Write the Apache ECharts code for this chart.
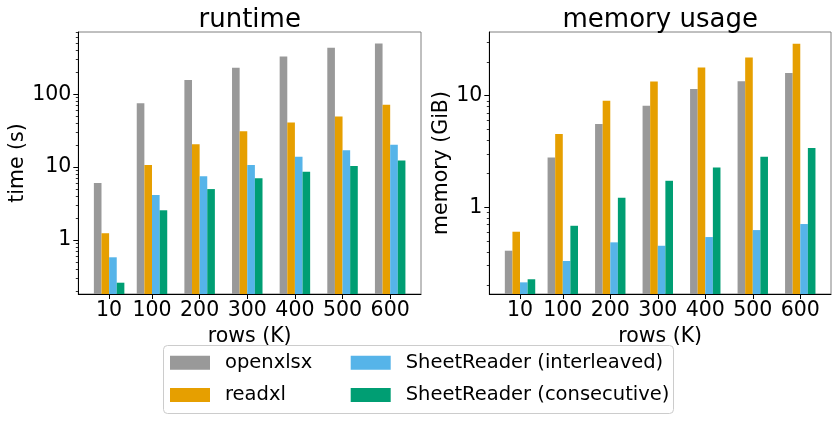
<!DOCTYPE html>
<html>
<head>
<meta charset="utf-8">
<script src="https://cdn.jsdelivr.net/npm/echarts@6/dist/echarts.min.js"></script>
<style>
html,body{margin:0;padding:0;background:#fff;}
#chart{width:839px;height:421px;}
</style>
</head>
<body>
<div id="chart"></div>
<script>
// ---- data ----
const rows = [10, 100, 200, 300, 400, 500, 600]; // rows (K)
const seriesNames = ['openxlsx', 'readxl', 'SheetReader (interleaved)', 'SheetReader (consecutive)'];
const seriesColors = ['#999999', '#E69F00', '#56B4E9', '#009E73'];

// runtime, seconds
const runtimeOpenxlsx = [6.07, 75.4, 156, 231, 330, 434, 497];
const runtimeReadxl = [1.24, 10.7, 20.6, 31.1, 40.9, 49.4, 71.5];
const runtimeInterleaved = [0.58, 4.15, 7.5, 10.7, 13.9, 17.1, 20.2];
const runtimeConsecutive = [0.26, 2.56, 5.0, 7.03, 8.67, 10.4, 12.3];

// memory, GiB
const memoryOpenxlsx = [0.409, 2.80, 5.57, 8.12, 11.5, 13.5, 16.0];
const memoryReadxl = [0.605, 4.53, 9.0, 13.4, 17.9, 22.0, 29.2];
const memoryInterleaved = [0.213, 0.331, 0.486, 0.453, 0.542, 0.626, 0.709];
const memoryConsecutive = [0.227, 0.684, 1.22, 1.73, 2.28, 2.84, 3.40];

const runtimeTicks = [1, 10, 100];
const memoryTicks = [1, 10];
const runtimeMinorTicks = [0.2,0.3,0.4,0.5,0.6,0.7,0.8,0.9,2,3,4,5,6,7,8,9,20,30,40,50,60,70,80,90,200,300,400,500,600,700];
const memoryMinorTicks = [0.2,0.3,0.4,0.5,0.6,0.7,0.8,0.9,2,3,4,5,6,7,8,9,20,30];

const runtimeSets = [runtimeOpenxlsx, runtimeReadxl, runtimeInterleaved, runtimeConsecutive];
const memorySets = [memoryOpenxlsx, memoryReadxl, memoryInterleaved, memoryConsecutive];

// ---- chart ----
const FONT = 'DejaVu Sans';
const TICK_FS = 20.5;
const BAR_UNITS = 16; // bar width in x-axis units (rows K)

function makeRender(k) {
  return function (params, api) {
    const x = api.value(0), y = api.value(1);
    const top = api.coord([x, y]);
    const w = api.size([BAR_UNITS, 0], [x, 1])[0];
    const bottom = params.coordSys.y + params.coordSys.height;
    return {
      type: 'rect',
      shape: { x: top[0] + (k - 2) * w, y: top[1], width: w, height: bottom - top[1] },
      style: { fill: seriesColors[k] }
    };
  };
}

function xAxisDef(gridIndex) {
  return {
    type: 'value', gridIndex: gridIndex, min: -54.7, max: 664.7,
    name: 'rows (K)', nameLocation: 'middle', nameGap: 32,
    nameTextStyle: { fontSize: TICK_FS, color: '#000', fontFamily: FONT },
    axisLine: { show: true, onZero: false, lineStyle: { color: '#000', width: 1 } },
    axisTick: { show: true, customValues: rows, length: 5, lineStyle: { color: '#000' } },
    axisLabel: { customValues: rows, margin: 6, fontSize: TICK_FS, color: '#000', fontFamily: FONT,
                 formatter: function (v) { return String(v); } },
    splitLine: { show: false }
  };
}

function yAxisDef(gridIndex, min, max, ticks, name, nameGap) {
  return {
    type: 'log', logBase: 10, gridIndex: gridIndex, min: min, max: max,
    name: name, nameLocation: 'middle', nameGap: nameGap, nameRotate: 90,
    nameTextStyle: { fontSize: TICK_FS, color: '#000', fontFamily: FONT },
    axisLine: { show: true, onZero: false, lineStyle: { color: '#000', width: 1 } },
    axisTick: { show: true, customValues: ticks, length: 5, lineStyle: { color: '#000' } },
    axisLabel: { customValues: ticks, margin: 7, fontSize: TICK_FS, color: '#000', fontFamily: FONT,
                 formatter: function (v) { return String(Math.round(v)); } },
    splitLine: { show: false }
  };
}

function yMinorDef(gridIndex, min, max, minor) {
  return {
    type: 'log', logBase: 10, gridIndex: gridIndex, min: min, max: max, position: 'left',
    axisLine: { show: false, onZero: false },
    axisTick: { show: true, customValues: minor, length: 2.5, lineStyle: { color: '#000', width: 0.8 } },
    axisLabel: { show: false },
    splitLine: { show: false }
  };
}

const series = [];
[runtimeSets, memorySets].forEach(function (sets, g) {
  sets.forEach(function (vals, k) {
    series.push({
      type: 'custom', name: seriesNames[k],
      xAxisIndex: g, yAxisIndex: g * 2,
      itemStyle: { color: seriesColors[k] },
      renderItem: makeRender(k),
      encode: { x: 0, y: 1 },
      data: rows.map(function (r, i) { return [r, vals[i]]; })
    });
  });
});

const option = {
  backgroundColor: '#fff',
  animation: false,
  textStyle: { fontFamily: FONT },
  title: [
    { text: 'runtime', left: 244.7, top: 2, textAlign: 'center',
      textStyle: { fontSize: 26, fontWeight: 'normal', color: '#000', fontFamily: FONT } },
    { text: 'memory usage', left: 655.2, top: 2, textAlign: 'center',
      textStyle: { fontSize: 26, fontWeight: 'normal', color: '#000', fontFamily: FONT } }
  ],
  grid: [
    { left: 78.3, top: 32, width: 342.7, height: 262, show: true, borderColor: '#808080', borderWidth: 1, backgroundColor: 'transparent' },
    { left: 489.3, top: 32, width: 341.7, height: 262, show: true, borderColor: '#808080', borderWidth: 1, backgroundColor: 'transparent' }
  ],
  xAxis: [xAxisDef(0), xAxisDef(1)],
  yAxis: [
    yAxisDef(0, 0.182, 713, runtimeTicks, 'time (s)', 50),
    yMinorDef(0, 0.182, 713, runtimeMinorTicks),
    yAxisDef(1, 0.1675, 37.2, memoryTicks, 'memory (GiB)', 36),
    yMinorDef(1, 0.1675, 37.2, memoryMinorTicks)
  ],
  legend: [
    { left: 170, top: 352.7, orient: 'vertical', icon: 'rect', itemWidth: 40, itemHeight: 14, itemGap: 12.2,
      selectedMode: false, padding: 0,
      textStyle: { fontSize: 19.5, color: '#000', fontFamily: FONT, lineHeight: 20, padding: [0, 0, 0, 10] },
      data: [seriesNames[0], seriesNames[1]] },
    { left: 350.7, top: 352.7, orient: 'vertical', icon: 'rect', itemWidth: 40, itemHeight: 14, itemGap: 12.2,
      selectedMode: false, padding: 0,
      textStyle: { fontSize: 19.5, color: '#000', fontFamily: FONT, lineHeight: 20, padding: [0, 0, 0, 10] },
      data: [seriesNames[2], seriesNames[3]] }
  ],
  graphic: [
    { type: 'rect', left: 163, top: 345, shape: { width: 510, height: 68, r: 4 },
      style: { fill: 'rgba(255,255,255,0.8)', stroke: '#cccccc', lineWidth: 1 }, z: -1 }
  ],
  series: series
};

const chart = echarts.init(document.getElementById('chart'), null, { renderer: 'canvas' });
chart.setOption(option);
</script>
</body>
</html>
